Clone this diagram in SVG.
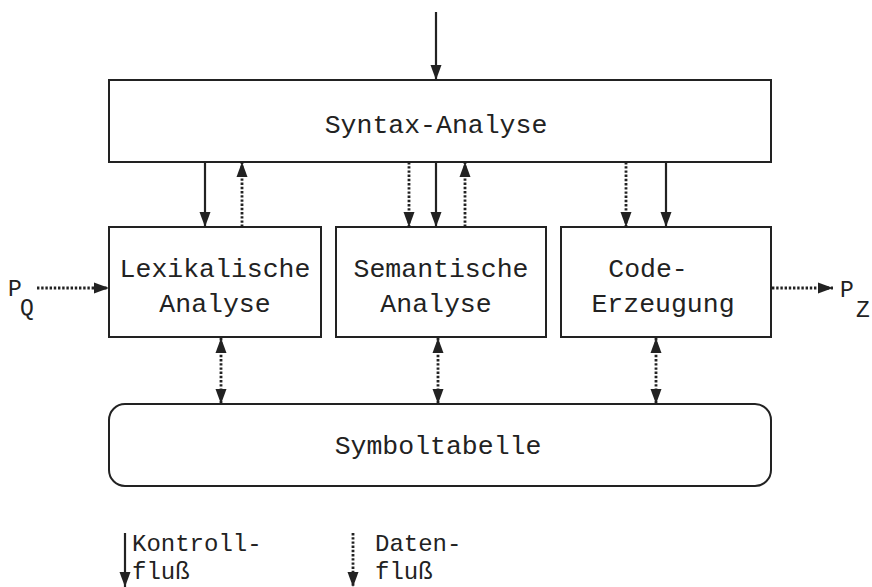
<svg xmlns="http://www.w3.org/2000/svg" width="872" height="587" viewBox="0 0 872 587">
  <style>
    .box { fill: #ffffff; stroke: #222222; stroke-width: 2; }
    .lbl { font-family: "Liberation Mono", "Courier New", monospace; font-size: 26.5px; fill: #222222; }
    .key { font-family: "Liberation Mono", "Courier New", monospace; font-size: 24px; fill: #222222; }
    .sub { font-family: "Liberation Mono", "Courier New", monospace; font-size: 23px; fill: #222222; }
    .ctl { stroke: #222222; stroke-width: 2.2; fill: none; }
    .dat { stroke: #222222; stroke-width: 2.8; fill: none; stroke-dasharray: 2.4 1.8; }
  </style>
  <defs>
    <marker id="head" markerUnits="userSpaceOnUse" markerWidth="15" markerHeight="12" viewBox="0 0 15 12" refX="15" refY="6" orient="auto">
      <path d="M0,0.5 L15,6 L0,11.5 Z" fill="#222222"/>
    </marker>
    <marker id="tail" markerUnits="userSpaceOnUse" markerWidth="15" markerHeight="12" viewBox="0 0 15 12" refX="0" refY="6" orient="auto">
      <path d="M15,0.5 L0,6 L15,11.5 Z" fill="#222222"/>
    </marker>
  </defs>

  <rect width="872" height="587" fill="#ffffff"/>

  <g id="syntax">
    <rect class="box" x="109" y="80" width="662" height="82"/>
    <text class="lbl" x="436" y="133" text-anchor="middle">Syntax-Analyse</text>
  </g>

  <g id="lexikalisch">
    <rect class="box" x="109" y="227" width="212" height="110"/>
    <text class="lbl" x="215" y="277" text-anchor="middle">Lexikalische</text>
    <text class="lbl" x="215" y="312" text-anchor="middle">Analyse</text>
  </g>

  <g id="semantisch">
    <rect class="box" x="336" y="227" width="210" height="110"/>
    <text class="lbl" x="441" y="277" text-anchor="middle">Semantische</text>
    <text class="lbl" x="436" y="312" text-anchor="middle">Analyse</text>
  </g>

  <g id="codeerzeugung">
    <rect class="box" x="561" y="227" width="210" height="110"/>
    <text class="lbl" x="648" y="277" text-anchor="middle">Code-</text>
    <text class="lbl" x="663" y="312" text-anchor="middle">Erzeugung</text>
  </g>

  <g id="symboltabelle">
    <rect class="box" x="109" y="404" width="662" height="82" rx="16" ry="16"/>
    <text class="lbl" x="438" y="454" text-anchor="middle">Symboltabelle</text>
  </g>

  <g id="quelle">
    <text class="sub" x="8" y="296">P</text>
    <text class="sub" x="20" y="315">Q</text>
  </g>

  <g id="ziel">
    <text class="sub" x="840" y="297">P</text>
    <text class="sub" x="856" y="317">Z</text>
  </g>

  <g id="connectors">
    <!-- input into the parser -->
    <line class="ctl" x1="436" y1="12" x2="436" y2="80" marker-end="url(#head)"/>
    <!-- parser to lexical analysis -->
    <line class="ctl" x1="205" y1="162" x2="205" y2="227" marker-end="url(#head)"/>
    <line class="dat" x1="242" y1="227" x2="242" y2="162" marker-end="url(#head)"/>
    <!-- parser to semantic analysis -->
    <line class="dat" x1="409" y1="162" x2="409" y2="227" marker-end="url(#head)"/>
    <line class="ctl" x1="436" y1="162" x2="436" y2="227" marker-end="url(#head)"/>
    <line class="dat" x1="465" y1="227" x2="465" y2="162" marker-end="url(#head)"/>
    <!-- parser to code generation -->
    <line class="dat" x1="626" y1="162" x2="626" y2="227" marker-end="url(#head)"/>
    <line class="ctl" x1="666" y1="162" x2="666" y2="227" marker-end="url(#head)"/>
    <!-- phases to symbol table -->
    <line class="dat" x1="221" y1="338" x2="221" y2="404" marker-start="url(#tail)" marker-end="url(#head)"/>
    <line class="dat" x1="438" y1="338" x2="438" y2="404" marker-start="url(#tail)" marker-end="url(#head)"/>
    <line class="dat" x1="656" y1="338" x2="656" y2="404" marker-start="url(#tail)" marker-end="url(#head)"/>
    <!-- source program in, target program out -->
    <line class="dat" x1="37" y1="288" x2="109" y2="288" marker-end="url(#head)"/>
    <line class="dat" x1="772" y1="288" x2="833" y2="288" marker-end="url(#head)"/>
  </g>

  <g id="legende">
    <line class="ctl" x1="125" y1="533" x2="125" y2="587" marker-end="url(#head)"/>
    <text class="key" x="132" y="551">Kontroll-</text>
    <text class="key" x="132" y="579">fluß</text>
    <line class="dat" x1="353" y1="533" x2="353" y2="587" marker-end="url(#head)"/>
    <text class="key" x="375" y="551">Daten-</text>
    <text class="key" x="375" y="579">fluß</text>
  </g>
</svg>
